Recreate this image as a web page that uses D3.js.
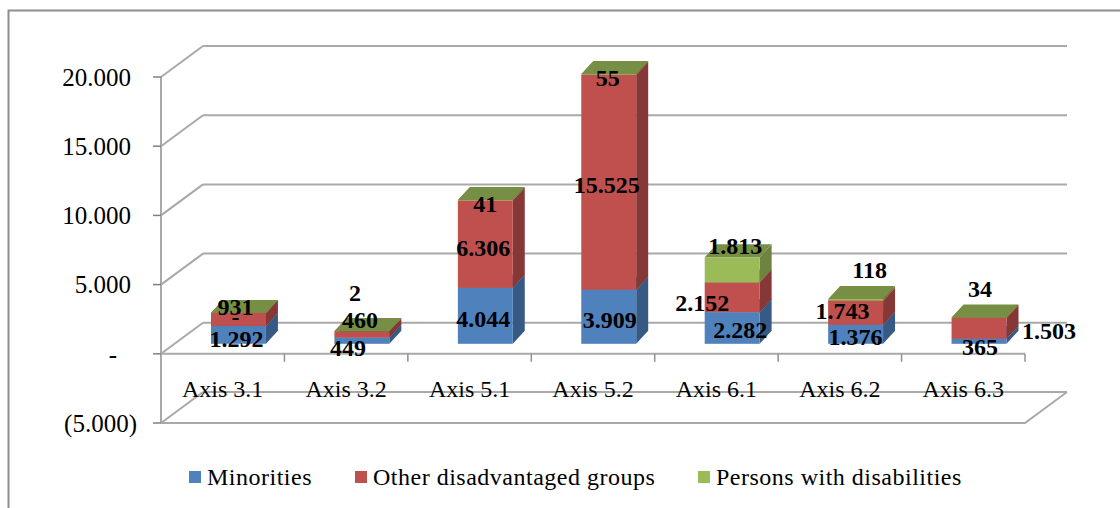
<!DOCTYPE html>
<html>
<head>
<meta charset="utf-8">
<script src="https://cdn.jsdelivr.net/npm/d3@7/dist/d3.min.js"></script>
<style>
  body { margin: 0; background: #fff; }
  svg { display: block; font-family: "Liberation Serif", "Times New Roman", serif; }
</style>
</head>
<body>
<svg id="chart" width="1120" height="508"></svg>
<script>
// ----- DATA -----
var categories = ["Axis 3.1", "Axis 3.2", "Axis 5.1", "Axis 5.2", "Axis 6.1", "Axis 6.2", "Axis 6.3"];
var seriesNames = ["Minorities", "Other disadvantaged groups", "Persons with disabilities"];
var minorities = [1292, 449, 4044, 3909, 2282, 1376, 365];
var otherGroups = [931, 460, 6306, 15525, 2152, 1743, 1503];
var disabilities = [0, 2, 41, 55, 1813, 118, 34];
var yTicks = [-5000, 0, 5000, 10000, 15000, 20000];
var colors = ["#4f81bd", "#c0504d", "#9bbb59"];

// hand-moved data labels (dx, dy per series, per category)
var labelNudge = [
  [[-2, 2], [-14, 5], [-2, 1], [1, 1], [8, 0], [0, 0], [1, 3]],
  [[-3, -15], [-2, -17], [-2, 1], [-2, 0], [-30, 3], [-13, -4], [70, 0]],
  [[-3, 2], [-7, -41], [0, 1], [-1, 1], [3, -26], [14, -32], [1, -31]]
];

var svg = d3.select("#chart");

// number format like the source: 20.000 / - / (5.000)
var loc = d3.formatLocale({decimal: ",", thousands: ".", grouping: [3], currency: ["", ""]});
var fmt = loc.format(",.0f");
function numLabel(v) {
  if (v === 0) return "-";
  if (v < 0) return "(" + fmt(-v) + ")";
  return fmt(v);
}

// ----- SCALES -----
var x = d3.scaleBand().domain(categories).range([161, 1025]);
var y = d3.scaleLinear().domain([-5000, 20000]).range([423, 77]);
var wallDx = 42, wallDy = -31;     // depth of the chart box
var barLift = 10;                  // bars sit a bit into the box
var barDx = 12, barDy = -13;       // depth of a bar
var bw = x.bandwidth();

// outer frame
svg.append("rect")
  .attr("x", 8.5).attr("y", 10.5)
  .attr("width", 1140).attr("height", 530)
  .attr("fill", "none").attr("stroke", "#8d8d8d").attr("stroke-width", 2);

// ----- WALLS / GRID -----
var grid = svg.append("g").attr("stroke", "#a9a9a9").attr("stroke-width", 2).attr("fill", "none");
var x0 = x.range()[0], x1 = x.range()[1];

yTicks.forEach(function(t) {
  grid.append("line")
    .attr("x1", x0 + wallDx).attr("x2", x1 + wallDx)
    .attr("y1", y(t) + wallDy).attr("y2", y(t) + wallDy);
  grid.append("line")
    .attr("x1", x0).attr("y1", y(t))
    .attr("x2", x0 + wallDx).attr("y2", y(t) + wallDy);
});

// floor at the bottom of the axis
var yMin = y.domain()[0];
grid.append("path")
  .attr("d", "M" + x0 + "," + y(yMin) + "L" + x1 + "," + y(yMin) +
             "L" + (x1 + wallDx) + "," + (y(yMin) + wallDy));

// value axis line + ticks
grid.append("line")
  .attr("x1", x0).attr("x2", x0)
  .attr("y1", y(yTicks[yTicks.length - 1])).attr("y2", y(yMin));

svg.append("g").selectAll("line").data(yTicks).join("line")
  .attr("x1", x0 - 8).attr("x2", x0)
  .attr("y1", function(d) { return y(d); }).attr("y2", function(d) { return y(d); })
  .attr("stroke", "#808080").attr("stroke-width", 1.5);

svg.append("g").selectAll("text").data(yTicks).join("text")
  .attr("x", 137)
  .attr("dx", function(d) { return d < 0 ? 0 : (d === 0 ? -20 : -6); })
  .attr("y", function(d) { return y(d); })
  .attr("dy", "0.35em")
  .attr("text-anchor", "end")
  .attr("font-size", 25)
  .attr("fill", "#000")
  .text(numLabel);

// category axis at zero
grid.append("line")
  .attr("x1", x0).attr("x2", x1)
  .attr("y1", y(0)).attr("y2", y(0));
svg.append("g").selectAll("line").data(categories).join("line")
  .attr("x1", function(d) { return x(d) + bw; }).attr("x2", function(d) { return x(d) + bw; })
  .attr("y1", y(0)).attr("y2", y(0) + 8)
  .attr("stroke", "#909090").attr("stroke-width", 1.5);

svg.append("g").selectAll("text").data(categories).join("text")
  .attr("x", function(d) { return x(d) + bw / 2; })
  .attr("y", y(0) + 35)
  .attr("dy", "0.35em")
  .attr("text-anchor", "middle")
  .attr("font-size", 24)
  .text(function(d) { return d; });

// ----- BARS -----
var rows = categories.map(function(c, i) {
  return {cat: c, s0: minorities[i], s1: otherGroups[i], s2: disabilities[i]};
});
var stacked = d3.stack().keys(["s0", "s1", "s2"])(rows);

var barLeft = function(c) { return x(c) + bw * 0.405; };
var barW = bw * 0.445;
var yb = function(v) { return y(v) - barLift; };

var bars = svg.append("g");
categories.forEach(function(c, ci) {
  stacked.forEach(function(layer, si) {
    var seg = layer[ci];
    var l = barLeft(c), r = l + barW;
    var top = yb(seg[1]), bot = yb(seg[0]);
    var base = d3.color(colors[si]);
    var g = bars.append("g");
    // side
    g.append("path")
      .attr("d", "M" + r + "," + bot + "L" + r + "," + top +
                 "L" + (r + barDx) + "," + (top + barDy) +
                 "L" + (r + barDx) + "," + (bot + barDy) + "Z")
      .attr("fill", base.darker(1.0));
    // front
    g.append("rect")
      .attr("x", l).attr("y", top)
      .attr("width", barW).attr("height", Math.max(0, bot - top))
      .attr("fill", base);
    // top
    g.append("path")
      .attr("d", "M" + l + "," + top + "L" + r + "," + top +
                 "L" + (r + barDx) + "," + (top + barDy) +
                 "L" + (l + barDx) + "," + (top + barDy) + "Z")
      .attr("fill", base.darker(0.75));
  });
});

// ----- DATA LABELS -----
var labels = svg.append("g")
  .attr("font-size", 24).attr("font-weight", "bold")
  .attr("text-anchor", "middle").attr("fill", "#000");
stacked.forEach(function(layer, si) {
  layer.forEach(function(seg, ci) {
    var c = categories[ci];
    var nud = labelNudge[si][ci];
    labels.append("text")
      .attr("x", barLeft(c) + barW / 2 + nud[0])
      .attr("y", (yb(seg[0]) + yb(seg[1])) / 2 + 2 + nud[1])
      .attr("dy", "0.35em")
      .text(numLabel(seg[1] - seg[0]));
  });
});

// ----- LEGEND -----
var legendX = [189, 355, 698];
var legend = svg.append("g").selectAll("g").data(seriesNames).join("g")
  .attr("transform", function(d, i) { return "translate(" + legendX[i] + ",477)"; });
legend.append("rect")
  .attr("x", 0).attr("y", -6).attr("width", 12).attr("height", 12)
  .attr("fill", function(d, i) { return colors[i]; });
legend.append("text")
  .attr("x", 18).attr("y", 0).attr("dy", "0.35em")
  .attr("font-size", 24)
  .attr("letter-spacing", 0.5)
  .text(function(d) { return d; });
</script>
</body>
</html>
